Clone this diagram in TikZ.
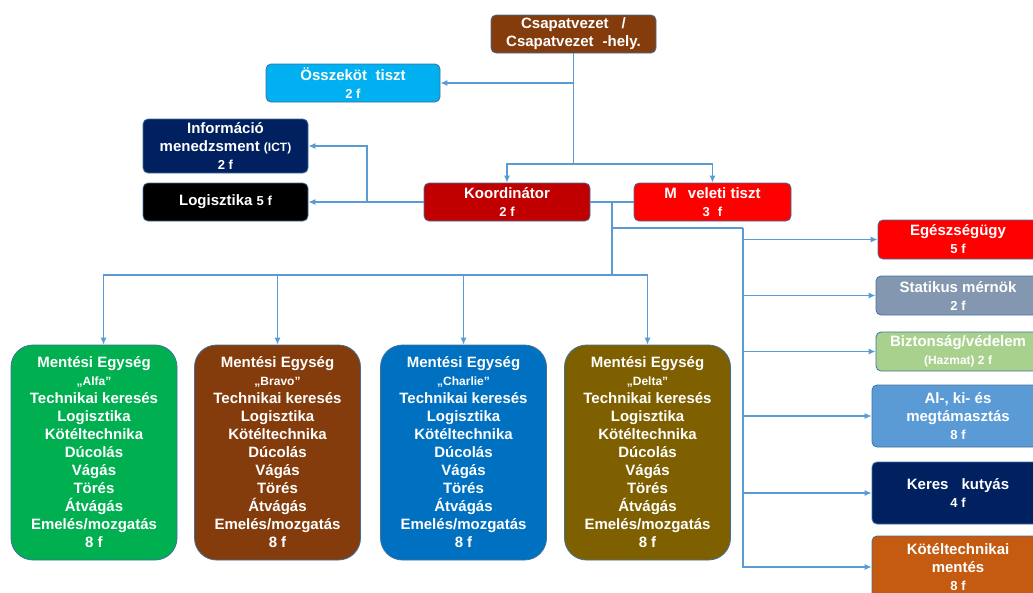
\documentclass[tikz,border=0pt]{standalone}
\usepackage{fontspec}
\setmainfont{Liberation Sans}
\usetikzlibrary{arrows.meta}
\definecolor{edgeblue}{HTML}{41719C}
\definecolor{linkblue}{HTML}{5B9BD5}
\definecolor{leadbrown}{HTML}{843C0C}
\definecolor{skyblue}{HTML}{00B0F0}
\definecolor{navy}{HTML}{002060}
\definecolor{darkred}{HTML}{C00000}
\definecolor{brightred}{HTML}{FF0000}
\definecolor{slateblue}{HTML}{8497B0}
\definecolor{palegreen}{HTML}{A9D18E}
\definecolor{midblue}{HTML}{5B9BD5}
\definecolor{ropeorange}{HTML}{C55A11}
\definecolor{alfagreen}{HTML}{00B050}
\definecolor{charlieblue}{HTML}{0070C0}
\definecolor{deltaolive}{HTML}{7F6000}
\newcommand\smf{\fontsize{13}{18}\selectfont}
\newcommand\tinyf{\fontsize{12}{18}\selectfont}
\begin{document}
\begin{tikzpicture}[x=1pt, y=-1pt,
    every node/.style={inner sep=1pt, text=white, align=center, font=\bfseries\fontsize{15}{18}\selectfont},
    box/.style={draw=edgeblue, line width=0.8pt, rounded corners=5pt, minimum height=38pt},
    unit/.style={box, rounded corners=22pt, minimum width=166pt, minimum height=215pt},
    link/.style={draw=linkblue, line width=1.2pt},
    arr/.style={link, -{Latex[length=7pt, width=6pt]}}]
  \useasboundingbox (0,0) rectangle (1033,592);
  \node[box, fill=leadbrown, minimum width=165pt] (lead) at (573.5,34) {Csapatvezet\hspace{13pt}/\\Csapatvezet\hspace{9pt}-hely.};
  \node[box, fill=skyblue, minimum width=174pt] (liaison) at (353,83) {Összeköt\hspace{8.5pt}tiszt\\{\smf 2 f}};
  \node[box, fill=navy, minimum width=165pt, minimum height=54pt] (info) at (225.5,146) {Információ\\menedzsment {\tinyf (ICT)}\\{\smf 2 f}};
  \node[box, fill=black, minimum width=165pt] (logi) at (225.5,202) {Logisztika {\smf 5 f}};
  \node[box, fill=darkred, minimum width=166pt] (coord) at (507,202) {Koordinátor\\{\smf 2 f}};
  \node[box, fill=brightred, minimum width=157pt] (ops) at (712.5,202) {M\hspace{11pt}veleti tiszt\\{\smf 3\hspace{8pt}f}};
  \node[unit, fill=alfagreen] (alfa) at (94,452.5) {Mentési Egység\\{\tinyf „Alfa”}\\Technikai keresés\\Logisztika\\Kötéltechnika\\Dúcolás\\Vágás\\Törés\\Átvágás\\Emelés/mozgatás\\8 f};
  \node[unit, fill=leadbrown] (bravo) at (277.5,452.5) {Mentési Egység\\{\tinyf „Bravo”}\\Technikai keresés\\Logisztika\\Kötéltechnika\\Dúcolás\\Vágás\\Törés\\Átvágás\\Emelés/mozgatás\\8 f};
  \node[unit, fill=charlieblue] (charlie) at (463.5,452.5) {Mentési Egység\\{\tinyf „Charlie”}\\Technikai keresés\\Logisztika\\Kötéltechnika\\Dúcolás\\Vágás\\Törés\\Átvágás\\Emelés/mozgatás\\8 f};
  \node[unit, fill=deltaolive] (delta) at (647.5,452.5) {Mentési Egység\\{\tinyf „Delta”}\\Technikai keresés\\Logisztika\\Kötéltechnika\\Dúcolás\\Vágás\\Törés\\Átvágás\\Emelés/mozgatás\\8 f};
  \node[box, fill=brightred, minimum width=160pt, minimum height=39pt] (med) at (958,239.5) {Egészségügy\\{\smf 5 f}};
  \node[box, fill=slateblue, minimum width=164pt, minimum height=39pt] (static) at (958,295.5) {Statikus mérnök\\{\smf 2 f}};
  \node[box, fill=palegreen, minimum width=164pt, minimum height=39pt] (safety) at (958,351.5) {Biztonság/védelem\\{\tinyf (Hazmat) 2 f}};
  \node[box, fill=midblue, minimum width=172pt, minimum height=62pt] (shore) at (958,416) {Al-, ki- és\\megtámasztás\\{\smf 8 f}};
  \node[box, fill=navy, minimum width=172pt, minimum height=62pt] (dogs) at (958,493) {Keres\hspace{13pt}kutyás\\{\smf 4 f}};
  \node[box, fill=ropeorange, minimum width=172pt, minimum height=62pt] (rope) at (958,567) {Kötéltechnikai\\mentés\\{\smf 8 f}};
  \coordinate (split) at (573.5,164);
  \coordinate (liaisonjoin) at (573.5,83);
  \coordinate (leftjoin) at (367,202);
  \coordinate (drop) at (612,202);
  \coordinate (bus) at (612,275);
  \coordinate (side) at (612,228);
  \coordinate (rail) at (743,228);
  \draw[link] (lead) -- (split);
  \draw[arr] (liaisonjoin) -- (liaison);
  \draw[arr] (split) -| (coord);
  \draw[arr] (split) -| (ops);
  \draw[link] (coord) -- (leftjoin);
  \draw[arr] (leftjoin) -- (logi);
  \draw[arr] (leftjoin) |- (info);
  \draw[link] (coord) -- (ops);
  \draw[link] (drop) -- (bus);
  \draw[arr] (bus) -| ([xshift=9.5pt]alfa.north);
  \draw[arr] (bus) -| (bravo);
  \draw[arr] (bus) -| (charlie);
  \draw[arr] (bus) -| (delta);
  \draw[link] (side) -- (rail);
  \draw[arr] (rail) |- (med);
  \draw[arr] (rail) |- (static);
  \draw[arr] (rail) |- (safety);
  \draw[arr] (rail) |- (shore);
  \draw[arr] (rail) |- (dogs);
  \draw[arr] (rail) |- (rope);
\end{tikzpicture}
\end{document}
